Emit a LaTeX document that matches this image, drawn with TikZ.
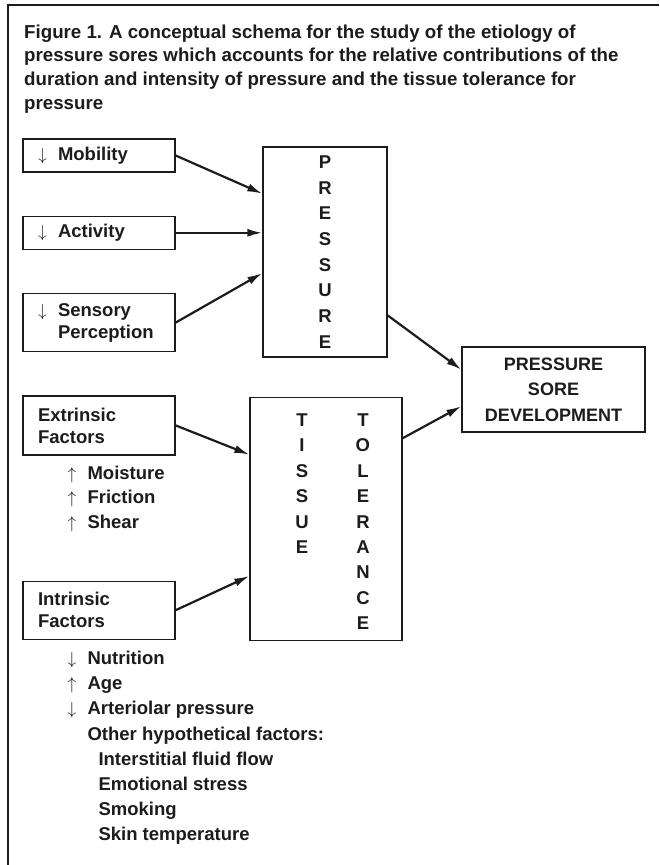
\documentclass[tikz,border=0pt]{standalone}
\usepackage{fontspec}
\setmainfont{Liberation Sans}
\usepackage{tikz}
\usetikzlibrary{
	positioning,
	calc,
	arrows.meta
}
\definecolor{ScanInk}{RGB}{28,28,28}

\newcommand{\lessmark}{\makebox[20pt][l]{$\downarrow$}}
\newcommand{\moremark}{\makebox[20pt][l]{$\uparrow$}}

\tikzset{
	factorbox/.style={
		draw=ScanInk,
		line width=1.3pt,
		minimum width=152pt,
		text width=122pt,
		inner xsep=15pt,
		align=left,
		text=ScanInk,
		font=\bfseries\fontsize{18.5}{22}\selectfont
	},
	letterbox/.style={
		draw=ScanInk,
		line width=1.3pt,
		text=ScanInk,
		font=\bfseries\fontsize{18.5}{25.7}\selectfont
	},
	stackbox/.style={
		letterbox,
		align=center
	},
	listtext/.style={
		inner sep=0pt,
		align=left,
		text=ScanInk,
		font=\bfseries\fontsize{18.5}{24.8}\selectfont
	},
	flow/.style={
		draw=ScanInk,
		line width=2.2pt,
		-{Latex[length=15pt,width=8pt]}
	}
}

\begin{document}
\begin{tikzpicture}[x=1pt,y=-1pt]
	
	\fill[white] (0,0) rectangle (659,865);
	\useasboundingbox (0,0) rectangle (659,865);
	
	% scan frame, left and top edge only
	\draw[ScanInk,line width=2pt] (8,865) -- (8,5) -- (659,5);
	
	\node[
	anchor=north west,
	inner sep=0pt,
	align=left,
	text=ScanInk,
	font=\bfseries\fontsize{18.7}{23.7}\selectfont
	]
	(title) at (24,24.4)
	{Figure 1. A conceptual schema for the study of the etiology of\\
		pressure sores which accounts for the relative contributions of the\\
		duration and intensity of pressure and the tissue tolerance for\\
		pressure};
	
	\node[
	factorbox,
	minimum height=33pt
	]
	(mob) at (99,155.5)
	{\lessmark Mobility};
	
	\node[
	factorbox,
	minimum height=33pt,
	below=43pt of mob
	]
	(act)
	{\lessmark Activity};
	
	\node[
	factorbox,
	minimum height=58pt,
	below=43pt of act
	]
	(sen)
	{\lessmark Sensory\\\hspace*{20pt}Perception};
	
	\node[
	factorbox,
	minimum height=59pt,
	below=43pt of sen
	]
	(ext)
	{Extrinsic\\Factors};
	
	\node[
	factorbox,
	minimum height=58pt,
	below=125pt of ext
	]
	(int)
	{Intrinsic\\Factors};
	
	\node[
	listtext,
	below right=10pt and 45pt of ext.south west
	]
	(extlist)
	{\moremark Moisture\\
		\moremark Friction\\
		\moremark Shear};
	
	\node[
	listtext,
	font=\bfseries\fontsize{18.5}{25.2}\selectfont,
	below right=11pt and 45pt of int.south west
	]
	(intlist)
	{\lessmark Nutrition\\
		\moremark Age\\
		\lessmark Arteriolar pressure\\
		\hspace*{20pt}Other hypothetical factors:\\
		\hspace*{31pt}Interstitial fluid flow\\
		\hspace*{31pt}Emotional stress\\
		\hspace*{31pt}Smoking\\
		\hspace*{31pt}Skin temperature};
	
	\node[
	stackbox,
	minimum width=124pt,
	minimum height=210pt
	]
	(pres) at (325,252)
	{P\\R\\E\\S\\S\\U\\R\\E};
	
	\node[
	letterbox,
	minimum width=152pt,
	minimum height=236pt,
	font=\bfseries\fontsize{18.5}{25.4}\selectfont
	]
	(tis) at (326,519)
	{\rule{0pt}{26pt}\hspace*{13.5pt}%
		\begin{tabular}[t]{@{}c@{}}T\\I\\S\\S\\U\\E\end{tabular}%
		\hspace{47pt}%
		\begin{tabular}[t]{@{}c@{}}T\\O\\L\\E\\R\\A\\N\\C\\E\end{tabular}};
	
	\node[
	stackbox,
	minimum width=183pt,
	minimum height=85pt,
	font=\bfseries\fontsize{18}{25.5}\selectfont
	]
	(psd) at (553.5,389.5)
	{PRESSURE\\SORE\\DEVELOPMENT};
	
	\draw[flow] (mob.east) -- ($(pres.north west)!0.224!(pres.south west)$);
	\draw[flow] (act.east) -- (act.east -| pres.west);
	\draw[flow] (sen.east) -- ($(pres.north west)!0.6!(pres.south west)$);
	\draw[flow] (ext.east) -- ($(tis.north west)!0.237!(tis.south west)$);
	\draw[flow] (int.east) -- ($(tis.north west)!0.733!(tis.south west)$);
	\draw[flow] ($(pres.north east)!0.8!(pres.south east)$) -- ($(psd.north west)!0.27!(psd.south west)$);
	\draw[flow] ($(tis.north east)!0.17!(tis.south east)$) -- ($(psd.north west)!0.694!(psd.south west)$);
	
\end{tikzpicture}
\end{document}
